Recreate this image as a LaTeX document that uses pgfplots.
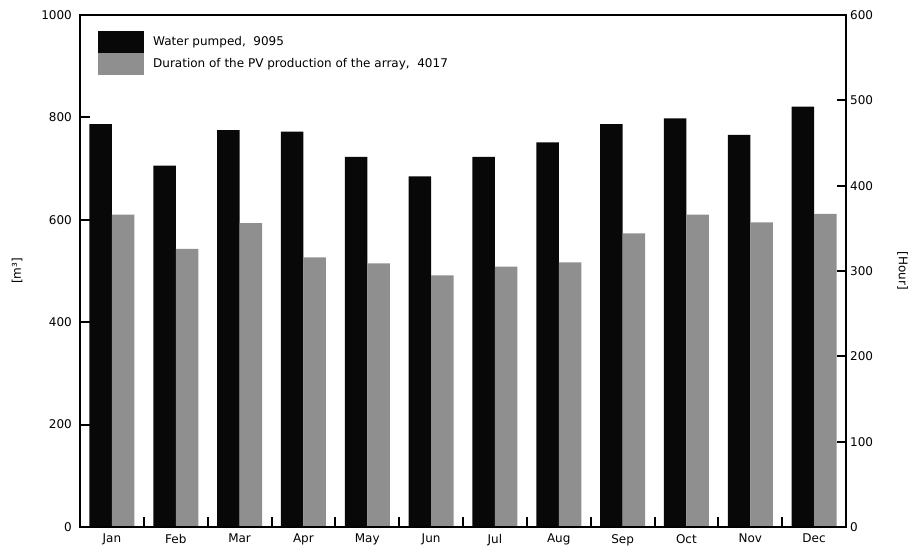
\documentclass[border=0pt]{standalone}
\usepackage{fontspec}
\setmainfont{DejaVu Sans}
\usepackage{pgfplots}
\pgfplotsset{compat=1.18}
\definecolor{barblack}{RGB}{8,8,8}
\definecolor{bargray}{RGB}{143,143,143}
\begin{document}
\fontsize{12}{14}\selectfont
\begin{tikzpicture}
\useasboundingbox (-80pt,-26pt) rectangle (829pt,527pt);
\pgfplotsset{
  common/.style={
    scale only axis, width=766pt, height=512pt,
    at={(0pt,0pt)}, anchor=south west,
    xmin=-0.5, xmax=11.5, ymin=0,
    axis line style={line width=2pt},
    every tick/.append style={line width=2pt, draw=black},
    every minor tick/.append style={line width=2pt, draw=black},
    tick align=inside,
    tickwidth=0pt,
    /pgf/number format/assume math mode=true,
    /pgf/number format/set thousands separator={},
    ticklabel style={font=\fontsize{12}{14}\selectfont},
    label style={font=\fontsize{12}{14}\selectfont},
  }
}
% left axis: labels, long ticks (as minor), bottom boundary ticks
\begin{axis}[common,
  ymax=1000,
  ytick={0,200,...,1000}, minor ytick={200,400,600,800}, ytick pos=left,
  subtickwidth=10pt,
  yticklabel style={xshift=-4pt},
  xtick={0,1,...,11},
  xticklabels={Jan,Feb,Mar,Apr,May,Jun,Jul,Aug,Sep,Oct,Nov,Dec},
  minor xtick={0.5,1.5,...,10.5},
  xtick pos=bottom,
  xticklabel style={yshift=-3pt},
  ylabel={[m³]},
  ylabel style={at={(axis description cs:-0.082,0.5)}, anchor=center},
  legend image code/.code={\fill[#1] (0pt,-11pt) rectangle (46pt,11pt);},
  legend style={at={(axis description cs:0.0235,0.969)}, anchor=north west,
    draw=none, fill=none, inner sep=0pt, row sep=0pt,
    nodes={inner sep=0pt, anchor=west, font=\fontsize{12}{14}\selectfont},
    /tikz/every odd column/.append style={column sep=9pt}},
  legend cell align=left,
]
\addplot[ybar, bar width=22.5pt, fill=barblack, draw=none, bar shift=-11.25pt, forget plot] coordinates {
(0,787) (1,706) (2,775) (3,772) (4,723) (5,685) (6,723) (7,751) (8,787) (9,798) (10,766) (11,821)};
\addlegendimage{fill=barblack, draw=none}
\addlegendentry{Water pumped,\ \ 9095}
\addlegendimage{fill=bargray, draw=none}
\addlegendentry{Duration of the PV production of the array,\ \ 4017}
\end{axis}
% top boundary ticks
\begin{axis}[common,
  ymax=1000, ytick=\empty,
  xtick=\empty, minor xtick={0.5,1.5,...,10.5}, xtick pos=top,
  subtickwidth=10pt,
]
\end{axis}
% left axis: short ticks
\begin{axis}[common,
  ymax=1000, ytick=\empty, minor ytick={100,300,...,900}, ytick pos=left,
  xtick=\empty, subtickwidth=5pt,
]
\end{axis}
% right axis: labels and long ticks (as minor), gray bars
\begin{axis}[common,
  ymax=600,
  ytick={0,100,...,600}, minor ytick={100,200,...,500}, ytick pos=right,
  xtick=\empty, subtickwidth=9pt,
  ylabel={[Hour]},
  ylabel style={at={(axis description cs:1.074,0.5)}, anchor=center, rotate=180},
]
\addplot[ybar, bar width=22.5pt, fill=bargray, draw=none, bar shift=11.25pt] coordinates {
(0,366) (1,326) (2,356) (3,316) (4,309) (5,295) (6,305) (7,310) (8,344) (9,366) (10,357) (11,367)};
\end{axis}
% right axis: short ticks
\begin{axis}[common,
  ymax=600, ytick=\empty, minor ytick={50,150,...,550}, ytick pos=right,
  xtick=\empty, subtickwidth=4pt,
]
\end{axis}
\end{tikzpicture}
\end{document}
